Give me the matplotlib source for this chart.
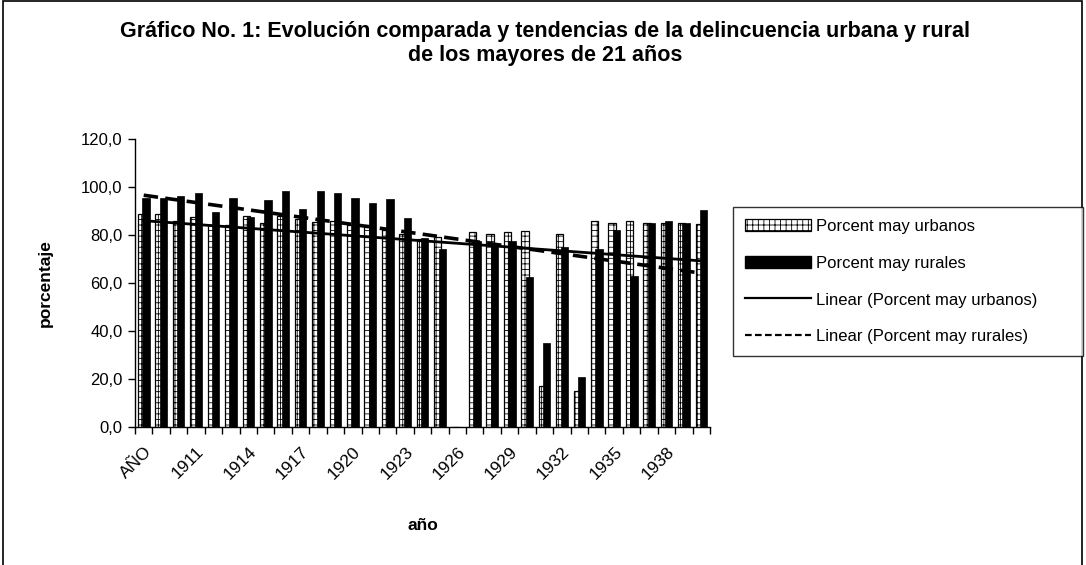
import matplotlib
matplotlib.use('Agg')

import matplotlib.pyplot as plt
import numpy as np
from matplotlib.patches import Rectangle
from matplotlib.lines import Line2D

plt.rcParams['font.family'] = ['Liberation Sans', 'DejaVu Sans']
plt.rcParams['hatch.linewidth'] = 0.6

categorias = ['AÑO'] + [str(a) for a in range(1909, 1941)]
# 1926 is blank in the source sheet (plotted as 0)
urbanos = [88.7, 88.7, 85.8, 87.6, 84.0, 84.3, 87.9, 85.1, 87.9, 86.6, 85.5,
           86.0, 84.2, 84.2, 82.0, 80.3, 78.4, 79.3, 0.0, 81.4, 80.3, 81.4,
           81.8, 17.1, 80.3, 15.2, 85.8, 85.2, 85.8, 85.2, 84.8, 85.2, 84.4]
rurales = [95.5, 95.6, 96.3, 97.6, 89.4, 95.6, 87.6, 94.5, 98.2, 91.0, 98.2,
           97.6, 95.6, 93.5, 95.2, 87.2, 78.6, 74.2, 0.0, 77.5, 76.5, 77.6,
           62.3, 34.8, 74.8, 20.7, 74.2, 82.0, 62.8, 84.8, 85.9, 85.2, 90.6]
etiquetas = ['AÑO', '1911', '1914', '1917', '1920', '1923', '1926', '1929',
             '1932', '1935', '1938']

urb = np.array(urbanos)
rur = np.array(rurales)
x = np.arange(len(categorias))

fig = plt.figure(figsize=(10.86, 5.65), dpi=100)
ax = fig.add_axes([135 / 1086, 1 - 427 / 565, 575 / 1086, 288 / 565])

# bars
w = 0.42
ax.bar(x - 0.12, urb, w, color='white', edgecolor='black',
       linewidth=0.9, hatch='+++', zorder=2)
ax.bar(x + 0.13, rur, w, color='black', edgecolor='black',
       linewidth=0.5, zorder=3)

# linear trendlines, Excel style (x = 1..n)
for serie, ls, lw in [(urb, '-', 2.0), (rur, (0, (4, 2)), 2.6)]:
    m, b = np.polyfit(x + 1, serie, 1)
    ax.plot(x, m * (x + 1) + b, color='black', linestyle=ls, linewidth=lw, zorder=4)

ax.set_xlim(-0.5, len(categorias) - 0.5)
ax.set_ylim(0, 120)
ax.set_yticks(np.arange(0, 121, 20))
ax.set_yticklabels([f'{v:.1f}'.replace('.', ',') for v in range(0, 121, 20)], fontsize=12)
ax.tick_params(axis='y', direction='out', length=5, width=1, pad=4)

ax.set_xticks(x[::3])
ax.set_xticklabels(etiquetas, rotation=45, ha='right', va='top', fontsize=12.5,
                   rotation_mode='anchor')
ax.tick_params(axis='x', which='major', length=0, pad=12)
ax.set_xticks(np.arange(-0.5, len(categorias), 1), minor=True)
ax.tick_params(axis='x', which='minor', direction='out', length=5, width=1)

for s in ['top', 'right']:
    ax.spines[s].set_visible(False)
for s in ['left', 'bottom']:
    ax.spines[s].set_linewidth(1)

ax.set_ylabel('porcentaje', fontsize=12.5, fontweight='bold', labelpad=20)
ax.set_xlabel('año', fontsize=12.5, fontweight='bold', labelpad=26)

fig.text(0.502, 1 - 32 / 565, 'Gráfico No. 1: Evolución comparada y tendencias de la delincuencia urbana y rural',
         ha='center', va='center', fontsize=15.5, fontweight='bold')
fig.text(0.502, 1 - 55 / 565, 'de los mayores de 21 años',
         ha='center', va='center', fontsize=15.5, fontweight='bold')

handles = [
    Rectangle((0, 0), 1, 1, facecolor='white', edgecolor='black', hatch='+++', linewidth=0.9),
    Rectangle((0, 0), 1, 1, facecolor='black', edgecolor='black'),
    Line2D([], [], color='black', linewidth=1.6),
    Line2D([], [], color='black', linewidth=1.6, linestyle=(0, (3, 1.5))),
]
labels = ['Porcent may urbanos', 'Porcent may rurales',
          'Linear (Porcent may urbanos)', 'Linear (Porcent may rurales)']
leg = fig.legend(handles, labels, loc='upper left',
                 bbox_to_anchor=(733 / 1086, 1 - 207 / 565 - 0.01, 350 / 1086, 0.01),
                 mode='expand', fontsize=12, frameon=True, fancybox=False,
                 edgecolor='black', labelspacing=1.3, handlelength=4.0,
                 handleheight=0.8, handletextpad=0.3, borderpad=0.7,
                 borderaxespad=0)
leg.get_frame().set_linewidth(1)

# outer chart border
fig.patches.append(Rectangle((3 / 1086, -0.05), 1079 / 1086, 1.05 - 1.5 / 565,
                             transform=fig.transFigure, fill=False,
                             edgecolor='black', linewidth=1.2))

fig.savefig('out.png', dpi=100)
